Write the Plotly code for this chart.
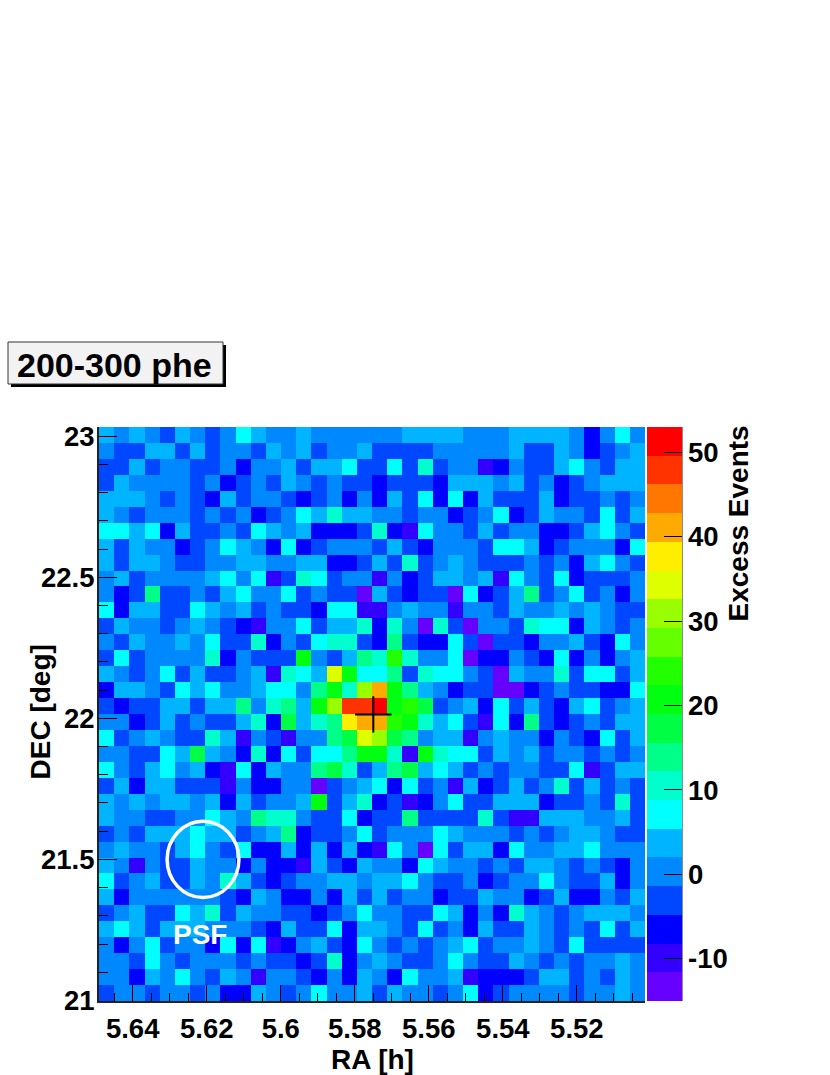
import numpy as np
import plotly.graph_objects as go

ra_edges = np.linspace(5.6491, 5.5016, 37)
dec_edges = np.linspace(20.998, 23.033, 37)
ra_ticks = [5.64, 5.62, 5.60, 5.58, 5.56, 5.54, 5.52]
ra_labels = ["5.64", "5.62", "5.6", "5.58", "5.56", "5.54", "5.52"]
dec_ticks = [21, 21.5, 22, 22.5, 23]
dec_labels = ["21", "21.5", "22", "22.5", "23"]
bar_ticks = [-10, 0, 10, 20, 30, 40, 50]
source_ra = [5.575]
source_dec = [22.014]
palette = ["#6600ff", "#3300ff", "#0000ff", "#0048ff", "#0088ff", "#00b4ff", "#00ffff",
           "#00ffcc", "#00ff88", "#00ff44", "#00ff11", "#22ff00", "#66ff00", "#99ff00",
           "#ddff00", "#ffee00", "#ffaa00", "#ff7700", "#ff3300", "#ff0000"]
excess_rows_top_down = [
[4,0,4,0,-3,4,0,-3,0,7,4,0,0,4,0,0,0,0,0,0,4,4,4,4,0,0,0,4,4,4,4,0,-7,0,7,0],
[0,-3,-3,4,4,-3,4,-3,0,0,-3,4,0,4,-3,0,0,4,-3,-3,-3,-3,0,0,0,0,0,4,-3,-3,4,0,-7,-3,0,4],
[-3,-3,4,-3,0,0,-3,-3,0,-7,0,0,4,-3,4,4,7,-3,-3,7,-3,10,-3,0,0,-10,-7,0,-3,-3,4,7,0,-3,4,4],
[-3,4,0,0,0,0,-3,0,-7,-3,0,-3,4,0,-3,0,-3,-3,-7,-3,-3,-3,-7,4,4,4,0,4,-3,0,-7,-3,0,4,4,4],
[4,4,4,0,-3,0,-3,-7,4,-3,0,0,-3,-7,-3,0,-7,0,-7,4,-3,7,-7,7,-7,4,-3,-3,-3,4,-7,-3,-3,0,-3,0],
[4,0,-3,0,0,0,-3,0,-3,0,-7,-3,0,7,4,10,4,4,0,0,-3,0,0,-7,-3,0,7,-7,-3,4,0,0,-3,7,-3,4],
[7,7,4,7,-7,4,-3,-3,0,-3,7,4,0,4,-7,-7,-7,-3,10,-7,-10,7,0,0,-3,4,-3,0,0,-7,-7,-3,4,7,0,-3],
[4,-3,4,0,0,-7,-3,0,7,4,0,-7,7,-7,-3,0,0,0,-3,4,-3,-7,0,0,0,-3,7,7,4,-7,-3,0,0,0,-7,7],
[4,-3,4,4,0,-3,-3,0,0,4,4,0,0,4,4,-7,-7,-3,4,-3,10,-3,0,4,0,-3,-3,-3,0,-3,0,-7,4,7,0,-3],
[0,4,-3,0,0,0,0,4,7,0,7,-10,-3,10,7,-3,0,0,-10,0,-7,-3,4,4,0,4,-10,7,0,-3,7,-7,-3,-3,-3,0],
[0,-7,-3,14,-3,-3,0,-3,4,7,0,0,7,-3,0,-3,-3,-13,4,-3,-7,-3,-3,-13,7,-7,-3,4,14,-3,0,7,-3,0,-7,0],
[7,-7,4,4,-3,-3,7,4,0,4,-3,0,-3,-3,-7,7,7,-10,-10,0,4,0,0,-10,0,0,-3,4,0,0,4,0,4,0,-3,-3],
[-3,4,0,0,-3,0,4,0,-3,-7,-10,0,0,7,-3,4,4,10,-7,10,0,-13,10,-3,-13,0,0,-3,10,7,7,-7,4,0,-3,0],
[0,-3,4,0,0,4,0,7,-3,-3,10,-7,0,-3,7,10,10,-3,-7,14,-3,-7,-7,7,-3,-13,-3,-3,-7,0,0,4,-3,-7,7,0],
[-3,7,-3,0,0,0,0,10,-7,0,-3,-3,-3,21,0,-3,4,14,10,24,10,0,0,7,-13,-7,-7,0,-3,-7,7,-7,0,-7,0,4],
[4,0,-3,0,7,-3,4,-3,-3,0,4,-10,10,7,4,34,21,7,7,14,-3,10,7,7,0,-3,-13,4,0,0,10,-3,7,7,-3,4],
[-7,4,4,0,-3,7,4,7,0,0,4,7,7,0,14,21,10,31,41,21,14,4,0,-7,-3,-3,-13,-13,-7,-3,0,-3,-3,-7,-7,7],
[-3,-7,-3,-3,4,4,-3,4,4,14,0,10,14,4,21,31,48,48,51,21,24,17,-3,0,4,-7,7,-3,4,-3,-7,4,7,-3,0,4],
[0,0,-7,-3,4,-3,0,-3,-3,4,10,-7,17,4,10,14,38,41,41,24,21,10,4,7,-3,-10,7,-7,14,-3,-7,-3,0,-3,4,4],
[7,-3,0,4,0,-3,-3,10,4,-10,0,-3,-10,0,0,14,17,34,31,17,14,0,4,4,-10,0,4,0,0,-7,0,-3,-7,7,-3,4],
[0,0,-3,-3,7,4,17,4,0,-7,10,-7,7,-3,7,7,14,21,21,10,-10,21,10,7,7,-3,4,0,4,-3,0,0,-3,0,-3,0],
[7,0,-3,4,7,0,4,-7,-10,7,-7,4,0,0,14,17,10,-3,4,14,17,4,7,4,-3,0,-3,0,0,-3,-3,7,-10,-3,4,4],
[-3,4,-7,4,4,-3,-3,-3,-10,0,-7,-7,0,0,-13,-3,0,4,7,-7,7,-3,0,-10,4,-7,-3,4,-3,0,10,-3,4,-3,0,-3],
[4,0,4,0,4,4,0,4,-7,4,-3,0,0,4,21,-3,4,10,-7,-3,-10,-7,0,7,-3,-3,4,4,4,-7,-3,-3,0,-3,10,-3],
[4,0,0,-3,-3,0,0,7,4,0,14,10,10,0,-3,-3,7,-7,-3,-3,14,-3,-3,-3,-3,10,-3,-10,-10,4,4,4,0,0,4,-3],
[-3,0,-3,4,4,4,7,4,4,-3,0,4,14,-7,-3,-3,0,7,-3,0,0,0,7,4,0,0,0,-3,0,-3,0,4,4,0,-3,-3],
[0,4,0,0,-3,4,7,0,-3,7,-7,-7,4,-7,4,-7,4,-7,-10,7,0,-13,7,-3,4,4,-7,7,0,0,4,4,7,0,0,0],
[4,0,-10,0,-3,-3,4,0,0,-7,0,-7,-7,-10,4,-3,-7,4,0,0,-7,7,4,0,0,-3,0,-3,4,4,0,-3,0,-3,-7,0],
[7,-3,0,4,-3,-3,4,0,10,4,-3,-7,-3,0,0,4,4,0,4,4,7,0,-3,-3,0,-7,-3,0,0,7,0,-3,-3,4,-7,0],
[4,-7,0,0,0,0,0,0,-3,-7,4,0,-7,-7,0,-7,4,-3,4,-3,0,0,-7,-3,-3,4,0,0,-7,-3,4,-7,-7,0,-3,4],
[-3,0,4,-3,-3,7,4,10,-3,4,0,0,-3,-3,-7,-3,0,7,0,0,-3,-3,7,4,-7,0,-7,10,4,0,-3,0,4,4,4,0],
[4,7,4,-3,4,4,4,0,0,0,-3,-7,4,-3,-3,7,-7,4,4,0,-3,7,-3,0,-7,4,-3,-3,4,0,-3,0,-3,7,-3,4],
[0,-7,0,7,-3,0,0,-7,7,-7,7,-10,-7,0,4,-3,-7,7,0,-3,0,-3,0,4,7,-3,0,0,4,0,-3,7,-3,-3,-3,-3],
[0,0,-3,7,0,-3,0,0,0,-3,0,-3,-3,-7,-3,10,-7,0,4,0,-3,-3,0,7,0,-3,-3,4,0,-3,0,-3,0,0,4,0],
[0,0,-7,4,0,7,0,-3,4,0,-10,0,0,-3,-7,0,-7,4,0,-7,7,0,0,4,-10,-7,-7,-7,-3,4,4,-3,0,-3,4,0],
[-3,0,0,-3,0,0,-3,0,-7,-7,4,0,-3,0,7,0,0,4,-3,4,0,0,-3,0,7,-7,-3,0,0,0,0,-3,0,0,4,0],
]

FONT = "Liberation Sans"
L, R, T, B = 99, 645, 427, 1001
W, H = 830, 1075
px = lambda v: (v - L) / (R - L)
py = lambda v: (B - v) / (B - T)

scale = []
n = len(palette)
for i, c in enumerate(palette):
    scale += [[i / n, c], [(i + 1) / n, c]]

tick_font = dict(family=FONT, size=27.5, color="black", weight=700)

fig = go.Figure()
fig.add_trace(go.Heatmap(
    x=ra_edges, y=dec_edges, z=excess_rows_top_down[::-1],
    zmin=-15, zmax=53, colorscale=scale, hoverinfo="skip",
    colorbar=dict(
        x=px(647), xanchor="left", xpad=0, y=0.5, yanchor="middle", ypad=0,
        len=1, lenmode="fraction", thickness=35, thicknessmode="pixels",
        outlinewidth=0, ticks="inside", ticklen=18, tickwidth=1, tickcolor="black",
        tickmode="array", tickvals=bar_ticks,
        ticktext=[str(v) for v in bar_ticks],
        tickfont=tick_font,
    ),
))
fig.add_trace(go.Scatter(
    x=source_ra, y=source_dec, mode="markers", hoverinfo="skip", showlegend=False,
    marker=dict(symbol="cross-thin", size=26, line=dict(color="black", width=2)),
))

title_font = dict(family=FONT, size=28, color="black", weight=700)
fig.update_xaxes(
    range=[ra_edges[0], ra_edges[-1]], tickmode="array", tickvals=ra_ticks, ticktext=ra_labels,
    ticks="inside", ticklen=16, tickwidth=1, tickcolor="black",
    minor=dict(dtick=0.005, tick0=5.5, ticks="inside", ticklen=8, tickwidth=1, tickcolor="black"),
    showgrid=False, zeroline=False, showline=True, linecolor="#222222", linewidth=2,
    tickfont=tick_font, ticklabelstandoff=2,
)
fig.update_yaxes(
    range=[dec_edges[0], dec_edges[-1]], tickmode="array", tickvals=dec_ticks, ticktext=dec_labels,
    ticks="inside", ticklen=18, tickwidth=1, tickcolor="black",
    minor=dict(dtick=0.1, tick0=21, ticks="inside", ticklen=9, tickwidth=1, tickcolor="black"),
    showgrid=False, zeroline=False, showline=True, linecolor="#222222", linewidth=2,
    tickfont=tick_font, ticklabelstandoff=-3,
)
fig.update_layout(
    width=W, height=H, margin=dict(l=L, r=W - R, t=T, b=H - B, autoexpand=False),
    paper_bgcolor="white", plot_bgcolor="white", showlegend=False,
    font=dict(family=FONT, color="black"),
    shapes=[
        dict(type="circle", xref="x", yref="y", x0=5.6307, x1=5.6113, y0=21.365, y1=21.635,
             line=dict(color="white", width=3.5)),
        dict(type="line", xref="paper", yref="paper", x0=px(682), x1=px(682), y0=0, y1=1,
             line=dict(color="#666666", width=1.5)),
        dict(type="rect", xref="paper", yref="paper", x0=px(11), x1=px(226), y0=py(387), y1=py(345),
             fillcolor="black", line=dict(width=0)),
        dict(type="rect", xref="paper", yref="paper", x0=px(8), x1=px(223), y0=py(384), y1=py(342),
             fillcolor="#f2f2f2", line=dict(color="#333333", width=1)),
    ],
    annotations=[
        dict(xref="paper", yref="paper", x=px(114.5), y=py(365.5), text="200-300 phe", xanchor="center", yanchor="middle",
             showarrow=False, font=dict(family=FONT, size=34, color="black", weight=700)),
        dict(xref="paper", yref="paper", x=px(200), y=py(934), text="PSF", xanchor="center", yanchor="middle",
             showarrow=False, font=dict(family=FONT, size=28, color="white", weight=700)),
        dict(xref="paper", yref="paper", x=px(738), y=py(523.5), text="Excess Events", xanchor="center", yanchor="middle",
             textangle=-90, showarrow=False, font=title_font),
        dict(xref="paper", yref="paper", x=px(40), y=py(712.5), text="DEC [deg]", xanchor="center", yanchor="middle",
             textangle=-90, showarrow=False, font=title_font),
        dict(xref="paper", yref="paper", x=px(372), y=py(1059), text="RA [h]", xanchor="center", yanchor="middle",
             showarrow=False, font=title_font),
    ],
)
fig.write_html("out.html", config={"displayModeBar": False}, post_script="document.body.style.margin='0';")
